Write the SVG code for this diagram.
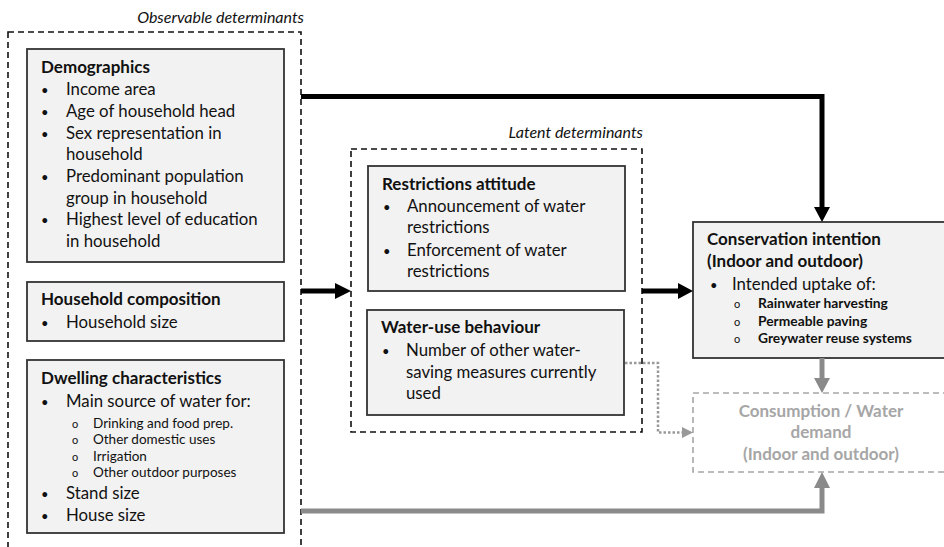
<svg xmlns="http://www.w3.org/2000/svg" width="944" height="547" viewBox="0 0 944 547">
<style>
text{font-family:Lato,"Open Sans","Liberation Sans",sans-serif;fill:#111}
.t{font-weight:bold;font-size:17px}
.b{font-size:16.8px}
.d{font-size:13px}
.s{font-size:13.5px}
.o{font-size:11px}
.sb{font-size:13.8px;font-weight:bold}
.it{font-style:italic;font-size:16px}
.box{fill:#f2f2f2;stroke:#333;stroke-width:1.8}
.grp{fill:none;stroke:#111;stroke-width:1.6;stroke-dasharray:6,4}
.blk{fill:none;stroke:#000;stroke-width:5}
.gry{fill:none;stroke:#8a8a8a;stroke-width:5}
.cons{fill:#a6a6a6;font-weight:bold;font-size:17px}
</style>
<rect width="944" height="547" fill="#fff"/>
<g id="observable">
<rect class="grp" x="8" y="32" width="293" height="540"/>
<text class="it" x="304" y="23" text-anchor="end">Observable determinants</text>
</g>
<g id="latent">
<rect class="grp" x="351" y="149" width="291" height="283"/>
<text class="it" x="643" y="138" text-anchor="end">Latent determinants</text>
</g>
<g id="demographics">
<rect class="box" x="27" y="49" width="257" height="213"/>
<text class="t" x="41" y="73">Demographics</text>
<g class="b">
<text class="d" x="41" y="95">•</text><text x="66" y="95">Income area</text>
<text class="d" x="41" y="117">•</text><text x="66" y="117">Age of household head</text>
<text class="d" x="41" y="139">•</text><text x="66" y="139">Sex representation in</text>
<text x="66" y="160">household</text>
<text class="d" x="41" y="182">•</text><text x="66" y="182">Predominant population</text>
<text x="66" y="204">group in household</text>
<text class="d" x="41" y="225">•</text><text x="66" y="225">Highest level of education</text>
<text x="66" y="247">in household</text>
</g>
</g>
<g id="household">
<rect class="box" x="27" y="282" width="257" height="59"/>
<text class="t" x="41" y="305">Household composition</text>
<text class="d" x="41" y="328">•</text><text class="b" x="66" y="328">Household size</text>
</g>
<g id="dwelling">
<rect class="box" x="27" y="360" width="257" height="173"/>
<text class="t" x="41" y="384">Dwelling characteristics</text>
<text class="d" x="41" y="407">•</text><text class="b" x="66" y="407">Main source of water for:</text>
<text class="o" x="72" y="428">o</text><text class="s" x="93" y="428">Drinking and food prep.</text>
<text class="o" x="72" y="444">o</text><text class="s" x="93" y="444">Other domestic uses</text>
<text class="o" x="72" y="461">o</text><text class="s" x="93" y="461">Irrigation</text>
<text class="o" x="72" y="477">o</text><text class="s" x="93" y="477">Other outdoor purposes</text>
<text class="d" x="41" y="499">•</text><text class="b" x="66" y="499">Stand size</text>
<text class="d" x="41" y="521">•</text><text class="b" x="66" y="521">House size</text>
</g>
<g id="restrictions">
<rect class="box" x="368" y="166" width="257" height="125"/>
<text class="t" x="382" y="190">Restrictions attitude</text>
<text class="d" x="383" y="212">•</text><text class="b" x="407" y="212">Announcement of water</text>
<text class="b" x="407" y="233">restrictions</text>
<text class="d" x="383" y="256">•</text><text class="b" x="407" y="256">Enforcement of water</text>
<text class="b" x="407" y="277">restrictions</text>
</g>
<g id="wateruse">
<rect class="box" x="367" y="310" width="257" height="105"/>
<text class="t" x="381" y="333">Water-use behaviour</text>
<text class="d" x="382" y="356">•</text><text class="b" x="406" y="356">Number of other water-</text>
<text class="b" x="406" y="378">saving measures currently</text>
<text class="b" x="406" y="399">used</text>
</g>
<g id="conservation">
<rect class="box" x="693" y="222" width="256" height="136"/>
<text class="t" x="707" y="245">Conservation intention</text>
<text class="t" x="707" y="267">(Indoor and outdoor)</text>
<text class="d" x="710" y="290">•</text><text class="b" x="732" y="290">Intended uptake of:</text>
<text class="o" x="734" y="308">o</text><text class="sb" x="758" y="308">Rainwater harvesting</text>
<text class="o" x="734" y="326">o</text><text class="sb" x="758" y="326">Permeable paving</text>
<text class="o" x="734" y="343">o</text><text class="sb" x="758" y="343">Greywater reuse systems</text>
</g>
<g id="consumption">
<rect x="693" y="393" width="256" height="79" fill="#fff" stroke="#a6a6a6" stroke-width="1.6" stroke-dasharray="6,4"/>
<text class="cons" x="821" y="417" text-anchor="middle">Consumption / Water</text>
<text class="cons" x="821" y="438" text-anchor="middle">demand</text>
<text class="cons" x="821" y="460" text-anchor="middle">(Indoor and outdoor)</text>
</g>
<g id="connectors">
<path class="blk" d="M301,96.5 H822 V208"/>
<polygon points="814,207 830,207 822,222" fill="#000"/>
<path class="blk" d="M301,291 H337"/>
<polygon points="335,283 351,291 335,299" fill="#000"/>
<path class="blk" d="M642,291 H680"/>
<polygon points="678,283 693,291 678,299" fill="#000"/>
<path class="gry" d="M822,358 V380"/>
<polygon points="814,378 830,378 822,393" fill="#8a8a8a"/>
<path class="gry" d="M301,511 H822 V487"/>
<polygon points="814,488 830,488 822,472" fill="#8a8a8a"/>
<path d="M625,363 H658 V432.5 H684" fill="none" stroke="#999" stroke-width="2.5" stroke-dasharray="2.5,2"/>
<polygon points="682,427 693,432.5 682,438" fill="#999"/>
</g>
</svg>
